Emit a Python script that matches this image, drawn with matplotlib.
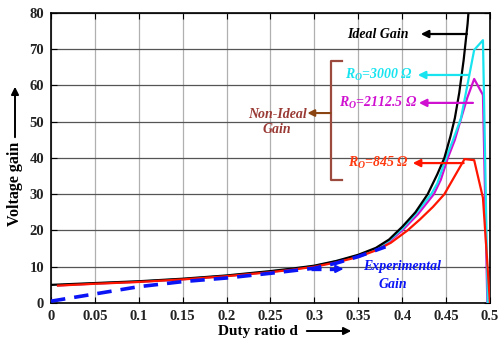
import matplotlib
matplotlib.use("Agg")
import matplotlib.pyplot as plt

plt.rcParams['font.family'] = ['Liberation Serif', 'DejaVu Serif']
plt.rcParams['font.weight'] = 'bold'
plt.rcParams['mathtext.fontset'] = 'custom'
plt.rcParams['mathtext.rm'] = 'Liberation Serif:bold:italic'
plt.rcParams['mathtext.it'] = 'Liberation Serif:bold:italic'

# datos
d_ideal = [0, 0.05, 0.1, 0.15, 0.2, 0.25, 0.275, 0.3, 0.325, 0.35, 0.37, 0.385, 0.4, 0.415, 0.429, 0.44, 0.448, 0.455, 0.46, 0.465, 0.47, 0.4745, 0.478]
v_ideal = [5.0, 5.5, 6.0, 6.7, 7.6, 8.8, 9.5, 10.3, 11.6, 13.3, 15.2, 17.5, 21.0, 25.0, 30.0, 35.5, 40.0, 46.0, 51.0, 58.0, 67.0, 77.0, 88.0]

d_cian = [0.008, 0.05, 0.1, 0.15, 0.2, 0.25, 0.275, 0.3, 0.325, 0.35, 0.37, 0.385, 0.4, 0.415, 0.433, 0.44, 0.45, 0.458, 0.467, 0.475, 0.482, 0.492, 0.4975]
v_cian = [4.9, 5.4, 5.9, 6.6, 7.5, 8.7, 9.4, 10.2, 11.5, 13.1, 15.0, 17.2, 20.5, 24.5, 30.0, 33.0, 40.0, 45.0, 51.0, 61.0, 69.8, 72.5, 0.0]

d_mag = [0.008, 0.05, 0.1, 0.15, 0.2, 0.25, 0.275, 0.3, 0.325, 0.35, 0.37, 0.385, 0.4, 0.418, 0.436, 0.444, 0.452, 0.46, 0.466, 0.474, 0.482, 0.492, 0.497]
v_mag = [4.85, 5.35, 5.85, 6.55, 7.45, 8.6, 9.3, 10.1, 11.4, 12.9, 14.8, 16.9, 20.0, 24.5, 30.0, 34.0, 40.0, 45.0, 50.0, 56.5, 61.8, 57.4, 0.0]

d_rojo = [0.008, 0.05, 0.1, 0.15, 0.2, 0.25, 0.275, 0.3, 0.325, 0.35, 0.37, 0.387, 0.406, 0.42, 0.435, 0.448, 0.471, 0.482, 0.492, 0.5]
v_rojo = [4.8, 5.3, 5.8, 6.5, 7.4, 8.5, 9.2, 10.0, 11.2, 12.7, 14.5, 16.6, 20.0, 23.0, 26.5, 30.0, 39.7, 39.4, 29.0, 0.0]

d_exp = [0, 0.05, 0.1, 0.15, 0.2, 0.25, 0.3, 0.325, 0.35, 0.381]
v_exp = [0.5, 2.5, 4.5, 5.9, 6.9, 8.2, 9.6, 11.0, 12.8, 15.5]

xticks = [0, 0.05, 0.1, 0.15, 0.2, 0.25, 0.3, 0.35, 0.4, 0.45, 0.5]
xlabels = ["0", "0.05", "0.1", "0.15", "0.2", "0.25", "0.3", "0.35", "0.4", "0.45", "0.5"]
yticks = [0, 10, 20, 30, 40, 50, 60, 70, 80]

c_cian = "#18E4F0"
c_mag = "#D010D0"
c_rojo = "#FF1500"
c_cafe = "#9C4A3E"
c_azul = "#0A14F5"

fig = plt.figure(figsize=(5.01, 3.39), dpi=100)
ax = fig.add_axes([0.1018, 0.1062, 0.8762, 0.8555])

ax.plot(d_ideal, v_ideal, color="black", lw=1.6, zorder=5)
ax.plot(d_cian, v_cian, color=c_cian, lw=1.6, zorder=4)
ax.plot(d_mag, v_mag, color=c_mag, lw=1.6, zorder=3)
ax.plot(d_rojo, v_rojo, color=c_rojo, lw=1.6, zorder=6)
ax.plot(d_exp, v_exp, color=c_azul, lw=2.6, ls=(0, (4, 2.5)), zorder=7)

ax.set_xlim(0, 0.5)
ax.set_ylim(0, 80)
ax.set_xticks(xticks)
ax.set_xticklabels(xlabels)
ax.set_yticks(yticks)
ax.tick_params(direction="in", top=True, right=True, length=4, labelsize=10.5)
ax.tick_params(axis="x", pad=5)
ax.tick_params(axis="y", pad=5)
for lab in ax.get_xticklabels() + ax.get_yticklabels():
    lab.set_fontweight("bold")
    lab.set_color("#222222")
ax.xaxis.grid(True, color="#b0b0b0", lw=0.9)
ax.yaxis.grid(True, color="#555555", lw=0.9)
ax.set_axisbelow(True)
for s in ax.spines.values():
    s.set_linewidth(1.2)

estilo = dict(fontsize=10, fontweight="bold", fontstyle="italic", va="center", ha="center")

def flecha(x0, x1, y, color, zorder=8):
    ax.annotate("", xy=(x0, y), xytext=(x1, y),
                arrowprops=dict(arrowstyle="-|>", color=color, lw=1.6, mutation_scale=11,
                                shrinkA=0, shrinkB=0), zorder=zorder)

# etiquetas
ax.text(0.372, 74.2, "Ideal Gain", color="black", **estilo)
flecha(0.4212, 0.4737, 74.2, "black")
ax.text(0.373, 62.9, "$R_O$=3000 Ω", color=c_cian, **estilo)
flecha(0.4178, 0.476, 62.9, c_cian)
ax.text(0.373, 55.2, "$R_O$=2112.5 Ω", color=c_mag, **estilo)
flecha(0.419, 0.4806, 55.2, c_mag)
ax.text(0.373, 38.6, "$R_O$=845 Ω", color="#FF3A10", **estilo)
flecha(0.412, 0.470, 38.6, c_rojo)

# corchete non-ideal
ax.plot([0.331, 0.3185, 0.3185, 0.332], [66.8, 66.8, 33.9, 33.9], color=c_cafe, lw=1.6)
ax.annotate("", xy=(0.292, 52.4), xytext=(0.3185, 52.4),
            arrowprops=dict(arrowstyle="-|>", color="#8B4513", lw=1.5, mutation_scale=10,
                            shrinkA=0, shrinkB=0))
ax.text(0.2575, 50.0, "Non-Ideal\nGain", color="#9A3A35", fontsize=10, fontweight="bold",
        fontstyle="italic", ha="center", va="center", linespacing=1.2)

# experimental
ax.plot([0.2957, 0.326], [9.4, 9.4], color=c_azul, lw=2.4, ls=(0, (3, 2.5)))
ax.annotate("", xy=(0.3333, 9.4), xytext=(0.322, 9.4),
            arrowprops=dict(arrowstyle="-|>", color=c_azul, lw=1.5, mutation_scale=11,
                            shrinkA=0, shrinkB=0))
ax.text(0.4, 10.0, "Experimental", color=c_azul, **estilo)
ax.text(0.389, 5.0, "Gain", color=c_azul, **estilo)

# titulos de ejes
fig.text(258 / 501, 1 - 332 / 339, "Duty ratio d", fontsize=11, fontweight="bold",
         ha="center", va="center")
fig.add_artist(matplotlib.patches.FancyArrowPatch((304 / 501, 1 - 331 / 339), (354 / 501, 1 - 331 / 339),
               transform=fig.transFigure, arrowstyle="-|>", mutation_scale=11, lw=1.4, color="black"))
fig.text(15 / 501, 1 - 184 / 339, "Voltage gain", fontsize=11.5, fontweight="bold",
         ha="center", va="center", rotation=90)
fig.add_artist(matplotlib.patches.FancyArrowPatch((15 / 501, 1 - 140 / 339), (15 / 501, 1 - 84 / 339),
               transform=fig.transFigure, arrowstyle="-|>", mutation_scale=11, lw=1.4, color="black"))

fig.savefig("out.png", dpi=100)
